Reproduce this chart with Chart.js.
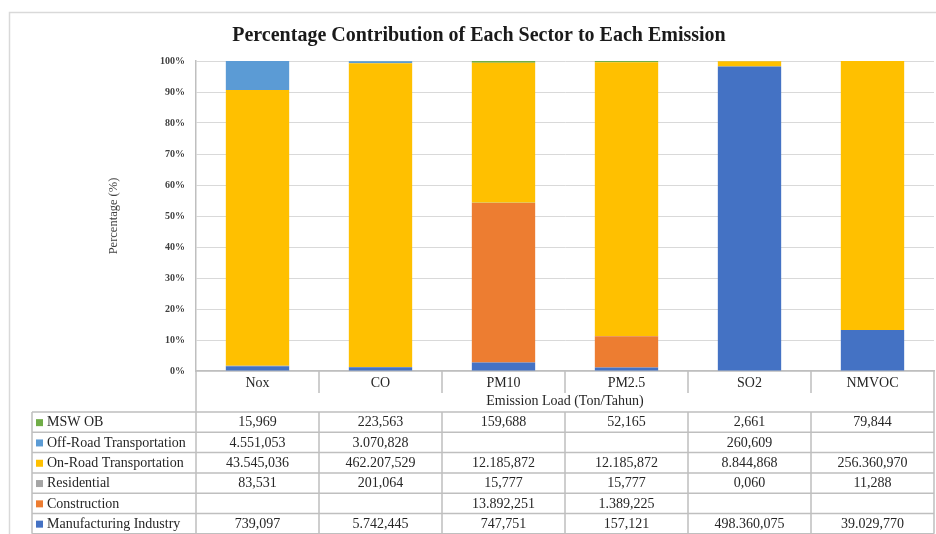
<!DOCTYPE html>
<html>
<head>
<meta charset="utf-8">
<title>Percentage Contribution of Each Sector to Each Emission</title>
<script src="https://cdn.jsdelivr.net/npm/chart.js@4.4.1/dist/chart.umd.min.js"></script>
<style>
  html, body { margin: 0; padding: 0; background: #ffffff; }
  #wrap { width: 936px; height: 534px; }
</style>
</head>
<body>
<div id="wrap"><canvas id="chart" width="936" height="534"></canvas></div>
<script>
// Emission loads per sector (Ton/Tahun), one entry per pollutant
const categories = ['Nox', 'CO', 'PM10', 'PM2.5', 'SO2', 'NMVOC'];
const manufacturing = [739.097, 5742.445, 747.751, 157.121, 498360.075, 39029.770];
const construction  = [null, null, 13892.251, 1389.225, null, null];
const residential   = [83.531, 201.064, 15.777, 15.777, 0.060, 11.288];
const onRoad        = [43545.036, 462207.529, 12185.872, 12185.872, 8844.868, 256360.970];
const offRoad       = [4551.053, 3070.828, null, null, 260.609, null];
const mswOB         = [15.969, 223.563, 159.688, 52.165, 2.661, 79.844];
const yTicks = [0, 10, 20, 30, 40, 50, 60, 70, 80, 90, 100];

const FONT = "'Liberation Serif', 'DejaVu Serif', serif";

// Sectors in stacking order (bottom to top)
const sectors = [
  { label: 'Manufacturing Industry',  data: manufacturing, color: '#4472C4' },
  { label: 'Construction',            data: construction,  color: '#ED7D31' },
  { label: 'Residential',             data: residential,   color: '#A5A5A5' },
  { label: 'On-Road Transportation',  data: onRoad,        color: '#FFC000' },
  { label: 'Off-Road Transportation', data: offRoad,       color: '#5B9BD5' },
  { label: 'MSW OB',                  data: mswOB,         color: '#70AD47' }
];

// Column totals used to express each load as a share of 100%
const totals = categories.map((_, i) =>
  sectors.reduce((s, sec) => s + (sec.data[i] || 0), 0));

// Indonesian number style: "." groups thousands, "," marks decimals
function fmtID(v) {
  const parts = v.toFixed(3).split('.');
  const intPart = parts[0].replace(/\B(?=(\d{3})+(?!\d))/g, '.');
  return intPart + ',' + parts[1];
}

// Outer frame of the figure
const framePlugin = {
  id: 'frame',
  beforeDraw(chart) {
    const ctx = chart.ctx;
    ctx.save();
    ctx.fillStyle = '#ffffff';
    ctx.fillRect(0, 0, chart.width, chart.height);
    ctx.strokeStyle = '#d9d9d9';
    ctx.lineWidth = 1.5;
    ctx.beginPath();
    ctx.moveTo(chart.width, 12.5);
    ctx.lineTo(9.5, 12.5);
    ctx.lineTo(9.5, chart.height);
    ctx.stroke();
    ctx.restore();
  }
};

// Data table under the category axis, with a colour key per row
const tablePlugin = {
  id: 'dataTable',
  afterDraw(chart) {
    const ctx = chart.ctx;
    const ca = chart.chartArea;
    const xs = chart.scales.x;
    const n = categories.length;
    const cellW = (ca.right - ca.left) / n;
    const tableLeft = 32;
    const tableTop = 412;
    const rowH = 20.3;
    const headerBottom = 393;
    const rows = sectors.slice().reverse();
    const tableBottom = tableTop + rowH * rows.length;

    ctx.save();
    ctx.strokeStyle = '#bfbfbf';
    ctx.lineWidth = 1.5;
    ctx.beginPath();
    // axis line continued down through the table
    ctx.moveTo(ca.left, ca.bottom);
    ctx.lineTo(ca.left, tableBottom);
    // column separators in the category label row
    for (let k = 1; k < n; k++) {
      const x = ca.left + k * cellW;
      ctx.moveTo(x, ca.bottom);
      ctx.lineTo(x, headerBottom);
    }
    // right edge
    ctx.moveTo(ca.right, ca.bottom);
    ctx.lineTo(ca.right, tableBottom);
    // table columns
    ctx.moveTo(tableLeft, tableTop);
    ctx.lineTo(tableLeft, tableBottom);
    for (let k = 1; k < n; k++) {
      const x = ca.left + k * cellW;
      ctx.moveTo(x, tableTop);
      ctx.lineTo(x, tableBottom);
    }
    // table rows
    for (let r = 0; r <= rows.length; r++) {
      const y = tableTop + r * rowH;
      ctx.moveTo(tableLeft, y);
      ctx.lineTo(ca.right, y);
    }
    ctx.stroke();

    ctx.font = '14px ' + FONT;
    ctx.textBaseline = 'middle';
    rows.forEach((sec, r) => {
      const cy = tableTop + r * rowH + rowH / 2 + 0.5;
      ctx.fillStyle = sec.color;
      ctx.fillRect(36, cy - 3.5, 7, 7);
      ctx.fillStyle = '#262626';
      ctx.textAlign = 'left';
      ctx.fillText(sec.label, 47, cy);
      ctx.textAlign = 'center';
      sec.data.forEach((v, i) => {
        if (v === null) return;
        ctx.fillText(fmtID(v), xs.getPixelForValue(i), cy);
      });
    });
    ctx.restore();
  }
};

const datasets = sectors.map(sec => ({
  label: sec.label,
  data: sec.data.map((v, i) => v === null ? null : v / totals[i] * 100),
  backgroundColor: sec.color,
  borderWidth: 0,
  barPercentage: 0.515,
  categoryPercentage: 1.0
}));

new Chart(document.getElementById('chart'), {
  type: 'bar',
  data: { labels: categories, datasets },
  plugins: [framePlugin, tablePlugin],
  options: {
    responsive: false,
    animation: false,
    devicePixelRatio: 1,
    layout: { padding: { left: 24, right: 2, top: 0, bottom: 0 } },
    plugins: {
      legend: { display: false },
      tooltip: { enabled: false },
      title: {
        display: true,
        text: 'Percentage Contribution of Each Sector to Each Emission',
        color: '#1a1a1a',
        font: { family: FONT, size: 20, weight: 'bold', lineHeight: 1.2 },
        padding: { top: 24, bottom: 13 }
      }
    },
    scales: {
      x: {
        stacked: true,
        grid: { display: false, drawTicks: false },
        border: { display: true, color: '#bfbfbf', width: 1.5 },
        ticks: { color: '#262626', font: { family: FONT, size: 14 }, padding: 4.2 },
        title: {
          display: true,
          text: 'Emission Load (Ton/Tahun)',
          color: '#262626',
          font: { family: FONT, size: 14, lineHeight: 1.2 },
          padding: { top: 0, bottom: 124.2 }
        },
        afterFit(scale) { scale.height = 163; }
      },
      y: {
        stacked: true,
        min: 0,
        max: 100,
        afterBuildTicks(scale) { scale.ticks = yTicks.map(v => ({ value: v })); },
        grid: { color: '#d9d9d9', lineWidth: 1, drawTicks: false },
        border: { display: true, color: '#bfbfbf', width: 1.5 },
        ticks: {
          color: '#404040',
          font: { family: FONT, size: 10, weight: 'bold' },
          padding: 11,
          callback: v => v + '%'
        },
        title: {
          display: true,
          text: 'Percentage (%)',
          color: '#404040',
          font: { family: FONT, size: 12.5, lineHeight: 1.2 },
          padding: { top: 82, bottom: 0 }
        },
        afterFit(scale) { scale.width = 172; }
      }
    }
  }
});
</script>
</body>
</html>
